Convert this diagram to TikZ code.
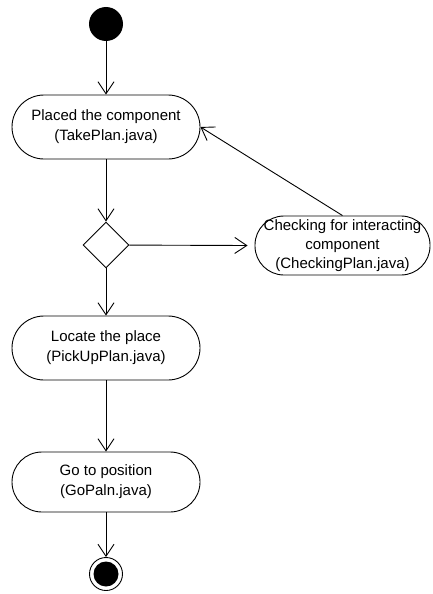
\documentclass[tikz,border=0pt]{standalone}
\usepackage{fontspec}
\setmainfont{Liberation Sans}
\usepackage{tikz}
\usetikzlibrary{shapes,arrows.meta}

\begin{document}
\begin{tikzpicture}[x=1pt,y=-1pt,line width=0.9pt,
  >={Straight Barb[length=12pt,width=16pt]},
  act/.style={draw, rectangle, rounded corners=32pt, minimum width=188pt, minimum height=64pt, align=center, font=\fontsize{15}{20}\selectfont},
  check/.style={draw, rectangle, rounded corners=29pt, minimum width=175pt, minimum height=59pt, align=center, inner sep=0pt, font=\fontsize{15}{19}\selectfont},
  decision/.style={draw, diamond, minimum size=46pt, inner sep=0pt, aspect=1},
  startnode/.style={circle, fill, minimum size=34pt, inner sep=0pt},
  stopnode/.style={circle, draw, minimum size=33pt, inner sep=0pt,
    path picture={\fill (path picture bounding box.center) circle (12.5pt);}}]
\useasboundingbox (0,0) rectangle (432,594);
\node [startnode] (start) at (106,24) {};
\node [act] (take) at (106,127) {Placed the component\\(TakePlan.java)};
\node [decision] (dec) at (106,245) {};
\node [check] (checking) at (342.5,245.5) {Checking for interacting\\component\\(CheckingPlan.java)};
\node [act] (pick) at (106,348) {Locate the place\\(PickUpPlan.java)};
\node [act, minimum height=60pt, rounded corners=30pt] (go) at (106,482) {Go to position\\(GoPaln.java)};
\node [stopnode] (stop) at (106,574) {};
\draw [->] (start) -- (take);
\draw [->] (take) -- (dec);
\draw [->] (dec) -- ([xshift=-7pt]checking.west);
\draw [->] (checking.north) -- (take.east);
\draw [->] (dec) -- (pick);
\draw [->] (pick) -- (go);
\draw [->] (go) -- (stop);
\end{tikzpicture}
\end{document}
